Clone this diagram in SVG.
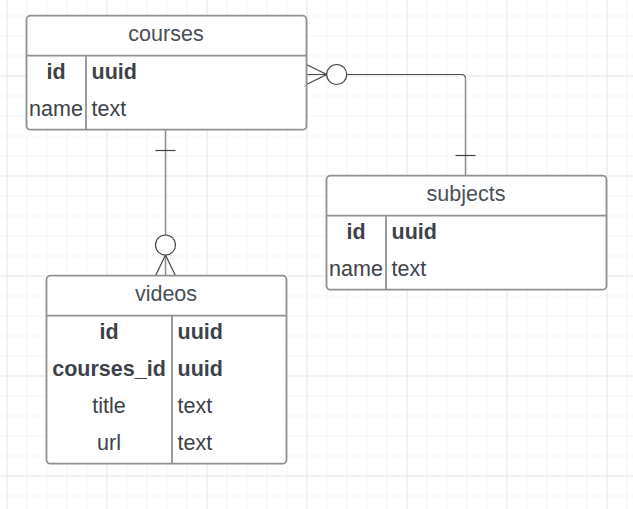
<svg xmlns="http://www.w3.org/2000/svg" width="633" height="509" viewBox="0 0 633 509">
  <defs>
    <pattern id="gridMinor" x="6.5" y="15.5" width="20" height="20" patternUnits="userSpaceOnUse">
      <path d="M0,0 H20 M0,0 V20" fill="none" stroke="#ebebeb" stroke-width="1"/>
    </pattern>
    <pattern id="gridMajor" x="6.5" y="75.5" width="100" height="100" patternUnits="userSpaceOnUse">
      <path d="M0,0 H100 M0,0 V100" fill="none" stroke="#dcdcdc" stroke-width="1"/>
    </pattern>
  </defs>
  <style>
    .box { fill: #ffffff; stroke: #8e9196; stroke-width: 1.8; }
    .div { stroke: #8e9196; stroke-width: 1.8; fill: none; }
    .hdr { font-family: "Liberation Sans", Arial, sans-serif; font-size: 21.5px; fill: #4a4f57; text-anchor: middle; }
    .t { font-family: "Liberation Sans", Arial, sans-serif; font-size: 21.5px; fill: #3d4249; }
    .b { font-weight: bold; }
    .c { text-anchor: middle; }
    .conn { fill: none; stroke: #454a51; stroke-width: 1.2; }
    .connv { fill: none; stroke: #8a8e93; stroke-width: 1.5; }
    .mk { fill: none; stroke: #3f444b; stroke-width: 1.2; }
    .mkc { fill: #ffffff; stroke: #3f444b; stroke-width: 1.2; }
  </style>
  <rect width="633" height="509" fill="#ffffff"/>
  <rect width="633" height="509" fill="url(#gridMinor)"/>
  <rect width="633" height="509" fill="url(#gridMajor)"/>

  <g id="connectors">
    <!-- courses to videos -->
    <line class="connv" x1="165.5" y1="130" x2="165.5" y2="275.7"/>
    <line class="mk" x1="155.5" y1="150.5" x2="175.5" y2="150.5"/>
    <path class="mk" d="M155.5,275.7 L165.5,255 L175.5,275.7"/>
    <circle class="mkc" cx="165.5" cy="245" r="10"/>
    <!-- courses to subjects -->
    <path class="conn" d="M306.5,74.5 H461.5 Q465.5,74.5 465.5,78.5"/>
    <line class="connv" x1="465.5" y1="78.5" x2="465.5" y2="175.7"/>
    <line class="mk" x1="455.5" y1="155.5" x2="475.5" y2="155.5"/>
    <path class="mk" d="M306.5,64.5 L326.7,74.5 L306.5,84.5"/>
    <circle class="mkc" cx="336.7" cy="74.5" r="10"/>
  </g>

  <g id="courses">
    <rect class="box" x="26.5" y="15.7" width="280" height="114" rx="4"/>
    <line class="div" x1="26.5" y1="55.7" x2="306.5" y2="55.7"/>
    <line class="div" x1="86" y1="55.7" x2="86" y2="129.7"/>
    <text class="hdr" x="166" y="40.7">courses</text>
    <text class="t b c" x="56" y="79">id</text>
    <text class="t b" x="91.5" y="79">uuid</text>
    <text class="t c" x="56" y="116">name</text>
    <text class="t" x="91.5" y="116">text</text>
  </g>

  <g id="subjects">
    <rect class="box" x="326.5" y="175.7" width="280" height="114" rx="4"/>
    <line class="div" x1="326.5" y1="215.7" x2="606.5" y2="215.7"/>
    <line class="div" x1="386" y1="215.7" x2="386" y2="289.7"/>
    <text class="hdr" x="466" y="200.7">subjects</text>
    <text class="t b c" x="356" y="239">id</text>
    <text class="t b" x="391.5" y="239">uuid</text>
    <text class="t c" x="356" y="276">name</text>
    <text class="t" x="391.5" y="276">text</text>
  </g>

  <g id="videos">
    <rect class="box" x="46.5" y="275.7" width="240" height="188" rx="4"/>
    <line class="div" x1="46.5" y1="315.7" x2="286.5" y2="315.7"/>
    <line class="div" x1="172" y1="315.7" x2="172" y2="463.7"/>
    <text class="hdr" x="166" y="300.7">videos</text>
    <text class="t b c" x="109" y="338.5">id</text>
    <text class="t b" x="177.5" y="338.5">uuid</text>
    <text class="t b c" x="109" y="375.5">courses_id</text>
    <text class="t b" x="177.5" y="375.5">uuid</text>
    <text class="t c" x="109" y="412.5">title</text>
    <text class="t" x="177.5" y="412.5">text</text>
    <text class="t c" x="109" y="449.5">url</text>
    <text class="t" x="177.5" y="449.5">text</text>
  </g>
</svg>
